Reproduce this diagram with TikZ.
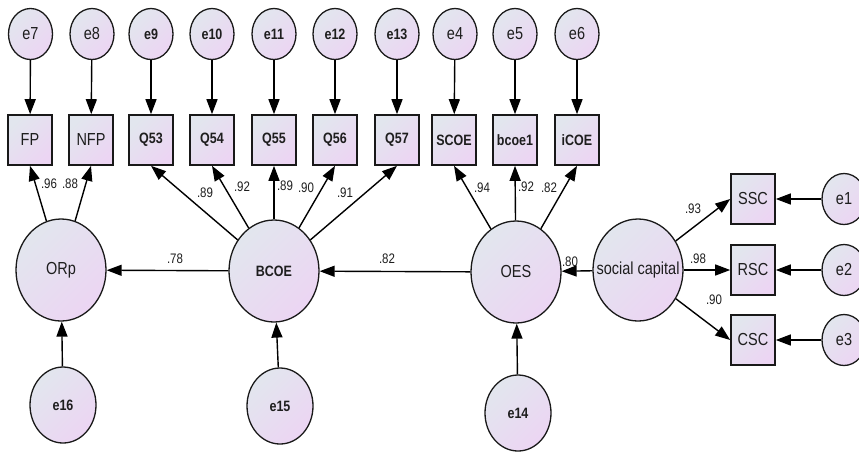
\documentclass[tikz,border=0pt]{standalone}
\usepackage{fontspec}
\usepackage{graphicx}
\setmainfont{Liberation Sans}
\usetikzlibrary{shapes.geometric,arrows.meta}
\definecolor{gA}{RGB}{226,230,238}
\definecolor{gB}{RGB}{236,213,243}
\definecolor{txt}{RGB}{30,30,30}
\newcommand{\vs}[1]{\makebox[0pt]{\scalebox{1}[1.2]{#1}}}
\begin{document}
\begin{tikzpicture}[x=1pt,y=-1pt,
 base/.style={draw=black!90, line width=1.3pt, top color=gA, bottom color=gB, shading angle=45, inner sep=0pt, text=txt},
 obs/.style={base, line width=1.6pt, rectangle, minimum width=44pt, minimum height=50pt},
 lat/.style={base, ellipse, minimum width=90pt, minimum height=102pt},
 errs/.style={base, ellipse, minimum width=44pt, minimum height=51pt},
 errb/.style={base, ellipse, minimum width=66pt, minimum height=76pt},
 rg/.style={font=\fontsize{14.5}{16}\selectfont},
 bd/.style={font=\fontsize{12.5}{14}\selectfont\bfseries},
 arr/.style={-{Triangle[length=15pt,width=11pt]}, line width=1.4pt, black},
 coef/.style={font=\fontsize{11.5}{13}\selectfont, inner sep=0pt, text=txt}
]
\useasboundingbox (0,0) rectangle (859,451);

% top error terms
\node[errs,rg] (e7)  at (30.5,34) {\vs{e7}};
\node[errs,rg] (e8)  at (92,34)  {\vs{e8}};
\node[errs,bd] (e9)  at (151,34) {\vs{e9}};
\node[errs,bd] (e10) at (212,34) {\vs{e10}};
\node[errs,bd] (e11) at (274,34) {\vs{e11}};
\node[errs,bd] (e12) at (335,34) {\vs{e12}};
\node[errs,bd] (e13) at (397,34) {\vs{e13}};
\node[errs,rg] (e4)  at (455,34) {\vs{e4}};
\node[errs,rg] (e5)  at (515,34) {\vs{e5}};
\node[errs,rg] (e6)  at (577,34) {\vs{e6}};

% top observed
\node[obs,rg] (FP)   at (30,140)  {\vs{FP}};
\node[obs,rg] (NFP)  at (91,140)  {\vs{NFP}};
\node[obs,bd] (Q53)  at (151,140) {\vs{Q53}};
\node[obs,bd] (Q54)  at (212,140) {\vs{Q54}};
\node[obs,bd] (Q55)  at (274,140) {\vs{Q55}};
\node[obs,bd] (Q56)  at (335,140) {\vs{Q56}};
\node[obs,bd] (Q57)  at (397,140) {\vs{Q57}};
\node[obs,bd] (SCOE) at (454,140) {\vs{SCOE}};
\node[obs,bd] (bcoe) at (515,140) {\vs{bcoe1}};
\node[obs,bd] (iCOE) at (577,140) {\vs{iCOE}};

% latents
\node[lat,rg] (ORp)  at (61,270)  {\vs{ORp}};
\node[lat,bd] (BCOE) at (274,271) {\vs{BCOE}};
\node[lat,rg] (OES)  at (516,272) {\vs{OES}};
\node[lat,rg] (SC)   at (638,270) {\vs{social capital}};

% bottom errors
\node[errb,bd] (e16) at (63,405)  {\vs{e16}};
\node[errb,bd] (e15) at (280,406) {\vs{e15}};
\node[errb,bd] (e14) at (518,413) {\vs{e14}};

% right observed
\node[obs,rg] (SSC) at (753,199) {\vs{SSC}};
\node[obs,rg] (RSC) at (753,270) {\vs{RSC}};
\node[obs,rg] (CSC) at (753,340) {\vs{CSC}};
\node[errs,rg] (e1) at (844,199) {\vs{e1}};
\node[errs,rg] (e2) at (844,270) {\vs{e2}};
\node[errs,rg] (e3) at (844,340) {\vs{e3}};

% error arrows (top)
\foreach \a/\b in {e7/FP,e8/NFP,e9/Q53,e10/Q54,e11/Q55,e12/Q56,e13/Q57,e4/SCOE,e5/bcoe,e6/iCOE}
  \draw[arr] (\a) -- (\b);

% loadings
\draw[arr] (ORp) -- (FP.south);
\draw[arr] (ORp) -- (NFP.south);
\foreach \b in {Q53,Q54,Q55,Q56,Q57}
  \draw[arr] (BCOE) -- (\b.south);
\foreach \b in {SCOE,bcoe,iCOE}
  \draw[arr] (OES) -- (\b.south);
\draw[arr] (SC) -- (SSC.west);
\draw[arr] (SC) -- (RSC.west);
\draw[arr] (SC) -- (CSC.west);

% structural
\draw[arr] (BCOE) -- (ORp);
\draw[arr] (OES) -- (BCOE);
\draw[arr] (SC) -- (OES);

% disturbances
\draw[arr] (e16) -- (ORp);
\draw[arr] (e15) -- (BCOE);
\draw[arr] (e14) -- (OES);
\draw[arr] (e1) -- (SSC);
\draw[arr] (e2) -- (RSC);
\draw[arr] (e3) -- (CSC);

% coefficients
\node[coef] (c1)  at (49,184)  {\vs{.96}};
\node[coef] (c2)  at (70,184)  {\vs{.88}};
\node[coef] (c3)  at (205,193) {\vs{.89}};
\node[coef] (c4)  at (242,187) {\vs{.92}};
\node[coef] (c5)  at (285,186) {\vs{.89}};
\node[coef] (c6)  at (306,188) {\vs{.90}};
\node[coef] (c7)  at (345,193) {\vs{.91}};
\node[coef] (c8)  at (482,188) {\vs{.94}};
\node[coef] (c9)  at (526,187) {\vs{.92}};
\node[coef] (c10) at (549,188) {\vs{.82}};
\node[coef] (c11) at (175,259) {\vs{.78}};
\node[coef] (c12) at (387,259) {\vs{.82}};
\node[coef] (c13) at (570,262) {\vs{.80}};
\node[coef] (c14) at (693,209) {\vs{.93}};
\node[coef] (c15) at (698,259) {\vs{.98}};
\node[coef] (c16) at (714,300) {\vs{.90}};
\end{tikzpicture}
\end{document}
